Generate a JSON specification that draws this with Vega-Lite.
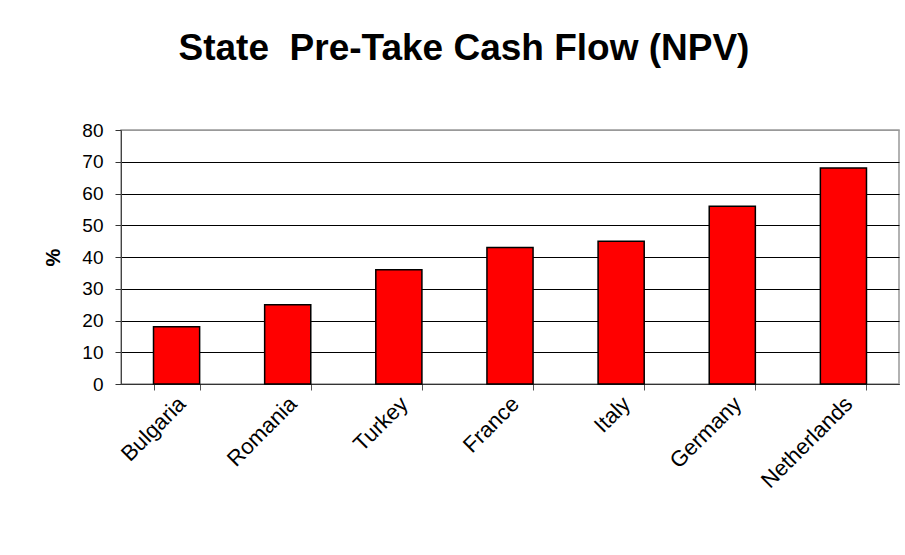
{
  "$schema": "https://vega.github.io/schema/vega-lite/v6.json",
  "width": 778,
  "height": 254,
  "autosize": "none",
  "padding": {"left": 121, "top": 130, "right": 6, "bottom": 171},
  "background": "white",
  "title": {
    "text": "State\u00a0 Pre-Take Cash Flow (NPV)",
    "font": "Liberation Sans",
    "fontSize": 37,
    "fontWeight": "bold",
    "color": "black",
    "anchor": "middle",
    "frame": "group",
    "baseline": "alphabetic",
    "offset": 24,
    "dx": -46
  },
  "data": {
    "values": [
      {"country": "Bulgaria", "value": 18},
      {"country": "Romania", "value": 25},
      {"country": "Turkey", "value": 36},
      {"country": "France", "value": 43},
      {"country": "Italy", "value": 45},
      {"country": "Germany", "value": 56},
      {"country": "Netherlands", "value": 68}
    ]
  },
  "mark": {"type": "bar", "fill": "#FF0000", "stroke": "black", "strokeWidth": 1.5},
  "encoding": {
    "x": {
      "field": "country",
      "type": "nominal",
      "sort": null,
      "scale": {"paddingInner": 0.585, "paddingOuter": 0.2925},
      "axis": {
        "title": null,
        "tickBand": "extent",
        "labelAngle": -45,
        "labelAlign": "right",
        "labelBaseline": "middle",
        "labelFont": "Liberation Sans",
        "labelFontSize": 22,
        "labelColor": "black",
        "labelPadding": 10,
        "labelOffset": 5,
        "domainColor": "#333333",
        "tickColor": "#555555",
        "tickSize": 6,
        "grid": false
      }
    },
    "y": {
      "field": "value",
      "type": "quantitative",
      "scale": {"domain": [0, 80], "nice": false},
      "axis": {
        "title": "%",
        "titleFont": "Liberation Sans",
        "titleFontSize": 20,
        "titleFontWeight": "bold",
        "titleColor": "black",
        "titleAngle": -90,
        "titleAlign": "center",
        "titleBaseline": "middle",
        "titleX": -68,
        "titleY": 127,
        "values": [0, 10, 20, 30, 40, 50, 60, 70, 80],
        "labelFont": "Liberation Sans",
        "labelFontSize": 19,
        "labelColor": "black",
        "labelPadding": 12,
        "tickSize": 6,
        "tickColor": "#333333",
        "domainColor": "#444444",
        "grid": true,
        "gridColor": {"condition": {"test": "datum.value === 80", "value": "#999999"}, "value": "black"},
        "gridOpacity": 1,
        "gridWidth": 1
      }
    }
  },
  "config": {
    "view": {"stroke": "#999999", "strokeWidth": 1.5}
  }
}
